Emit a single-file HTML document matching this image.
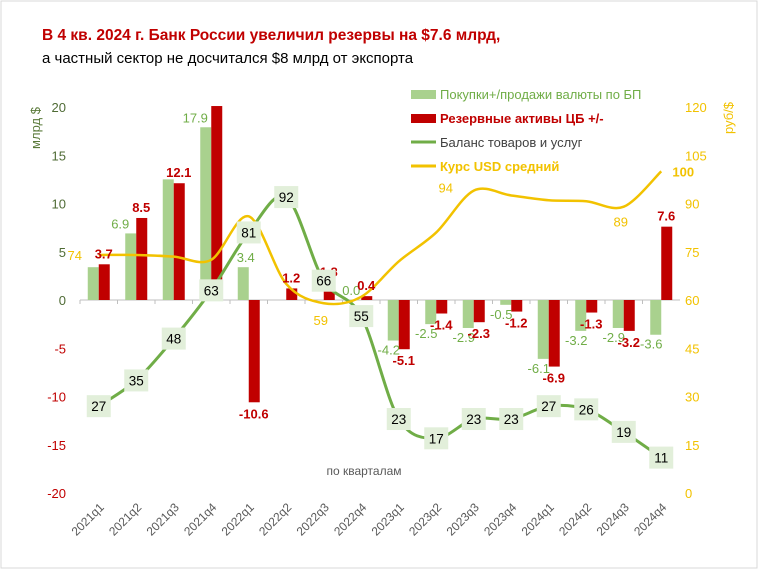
<!DOCTYPE html>
<html><head><meta charset="utf-8"><style>
body{margin:0;background:#fff;font-family:"Liberation Sans","DejaVu Sans",sans-serif}
#wrap{position:relative;width:758px;height:569px;overflow:hidden}
</style></head><body>
<div id="wrap">
<svg id="chart" width="758" height="569" xmlns="http://www.w3.org/2000/svg" font-family="Liberation Sans, DejaVu Sans, sans-serif">
<rect x="1" y="1" width="756" height="567" fill="#fff" stroke="#d9d9d9"/>
<text x="42" y="40" font-size="15.5" font-weight="bold" fill="#c00000">В 4 кв. 2024 г. Банк России увеличил резервы на $7.6 млрд,</text>
<text x="42" y="63" font-size="15" fill="#000">а частный сектор  не досчитался $8 млрд от экспорта</text>
<text transform="translate(40,128) rotate(-90)" font-size="13" fill="#5a7a3a" text-anchor="middle">млрд $</text>
<text transform="translate(733,118) rotate(-90)" font-size="13" fill="#f2c200" text-anchor="middle">руб/$</text>
<text x="364" y="475" font-size="12" fill="#595959" text-anchor="middle">по кварталам</text>
<g id="legend">
<rect x="411" y="90" width="25" height="9" fill="#a9d18e"/>
<text x="440" y="99" font-size="13" fill="#70ad47">Покупки+/продажи валюты по БП</text>
<rect x="411" y="114" width="25" height="9" fill="#c00000"/>
<text x="440" y="123" font-size="13" font-weight="bold" fill="#c00000">Резервные активы ЦБ +/-</text>
<line x1="411" y1="142" x2="436" y2="142" stroke="#70ad47" stroke-width="3"/>
<text x="440" y="147" font-size="13" fill="#404040">Баланс товаров и услуг</text>
<line x1="411" y1="166" x2="436" y2="166" stroke="#f2c200" stroke-width="3"/>
<text x="440" y="171" font-size="13" font-weight="bold" fill="#f2c200">Курс USD средний</text>
</g>
</svg>
</div>
<script>
const categories=["2021q1","2021q2","2021q3","2021q4","2022q1","2022q2","2022q3","2022q4","2023q1","2023q2","2023q3","2023q4","2024q1","2024q2","2024q3","2024q4"];
const fxPurchases=[3.4,6.9,12.5,17.9,3.4,0,0,0.0,-4.2,-2.5,-2.9,-0.5,-6.1,-3.2,-2.9,-3.6];
const fxLabels=["","6.9","","17.9","3.4","","","0.0","-4.2","-2.5","-2.9","-0.5","-6.1","-3.2","-2.9","-3.6"];
const reserves=[3.7,8.5,12.1,20.1,-10.6,1.2,1.8,0.4,-5.1,-1.4,-2.3,-1.2,-6.9,-1.3,-3.2,7.6];
const reserveLabels=["3.7","8.5","12.1","","-10.6","1.2","1.8","0.4","-5.1","-1.4","-2.3","-1.2","-6.9","-1.3","-3.2","7.6"];
const tradeBalance=[27,35,48,63,81,92,66,55,23,17,23,23,27,26,19,11];
const usdRate=[74,74,73.5,72.5,86,65,59,61,72,81,94,92.5,91,90.7,89,100];
const usdLabels=["74","","","","","","59","","","","94","","","","89","100"];
const leftTicks=[20,15,10,5,0,-5,-10,-15,-20];
const rightTicks=[120,105,90,75,60,45,30,15,0];

const svg=document.getElementById('chart');
const NS='http://www.w3.org/2000/svg';
const X0=80,X1=680,BW=11;
const yL=v=>300-v*(193/20);
const yR=v=>493-v*(386/120);
const xC=i=>X0+(X1-X0)/categories.length*(i+0.5);
function mk(tag,attrs,parent){const e=document.createElementNS(NS,tag);for(const k in attrs)e.setAttribute(k,attrs[k]);(parent||svg).appendChild(e);return e;}
function txt(x,y,s,size,fill,extra){const t=mk('text',Object.assign({x:x,y:y,'font-size':size,fill:fill,'text-anchor':'middle'},extra||{}));t.textContent=s;return t;}

leftTicks.forEach(v=>{
 const t=txt(66,yL(v)+5,String(v),13,v<0?'#c00000':'#4f6b35',{'text-anchor':'end'});
 
 
});
rightTicks.forEach(v=>{
 const t=txt(685,yR(v)+5,String(v),13,'#f2c200',{'text-anchor':'start'});
 
 
});
const ax=mk('line',{x1:X0,y1:yL(0),x2:X1,y2:yL(0),stroke:'#bfbfbf','stroke-width':1});


categories.forEach((c,i)=>{
 const tk=mk('line',{x1:X0+37.5*i,y1:yL(0),x2:X0+37.5*i,y2:yL(0)+4,stroke:'#bfbfbf'});
 
 
 const t=txt(0,0,c,12,'#595959',{'text-anchor':'end',transform:`translate(${xC(i)+6},${508}) rotate(-45)`});
 
 
});
fxPurchases.forEach((v,i)=>{
 const y=Math.min(yL(0),yL(v)),h=Math.abs(yL(v)-yL(0));
 const r=mk('rect',{x:xC(i)-BW,y:y,width:BW,height:Math.max(h,0),fill:'#a9d18e'});
 
 
});
reserves.forEach((v,i)=>{
 const y=Math.min(yL(0),yL(v)),h=Math.abs(yL(v)-yL(0));
 const r=mk('rect',{x:xC(i),y:y,width:BW,height:h,fill:'#c00000'});
 
 
});
function smooth(pts){let d=`M${pts[0][0]},${pts[0][1]}`;for(let i=0;i<pts.length-1;i++){const p0=pts[i-1]||pts[i],p1=pts[i],p2=pts[i+1],p3=pts[i+2]||p2;const t=0.16;d+=` C${p1[0]+(p2[0]-p0[0])*t},${p1[1]+(p2[1]-p0[1])*t} ${p2[0]-(p3[0]-p1[0])*t},${p2[1]-(p3[1]-p1[1])*t} ${p2[0]},${p2[1]}`;}return d;}
const gl=mk('path',{d:smooth(tradeBalance.map((v,i)=>[xC(i),yR(v)])),fill:'none',stroke:'#70ad47','stroke-width':3});


const yl=mk('path',{d:smooth(usdRate.map((v,i)=>[xC(i),yR(v)])),fill:'none',stroke:'#f2c200','stroke-width':2.5});


const fxDx=[0,-16,0,-16,-3,0,0,-10,-10,-10,-10,-10,-10,-10,-10,-10];
fxLabels.forEach((s,i)=>{if(!s)return;const v=fxPurchases[i];
 const t=txt(xC(i)+fxDx[i],v>=0?yL(v)-5:yL(v)+14,s,13,'#70ad47');
 
 
});
reserveLabels.forEach((s,i)=>{if(!s)return;const v=reserves[i];
 const t=txt(xC(i)+5,v>=0?yL(v)-6:yL(v)+16,s,13,'#c00000',{'font-weight':'bold'});
 
 
});
const usdDx=[-24,0,0,0,0,0,-3,0,0,0,-28,0,0,0,-3,22];
const usdDy=[5,0,0,0,0,0,22,0,0,0,2,0,0,0,20,5];
usdLabels.forEach((s,i)=>{if(!s)return;
 const t=txt(xC(i)+usdDx[i],yR(usdRate[i])+usdDy[i],s,13,'#f2c200',{'font-weight':i===15?'bold':'normal'});
 
 
});
tradeBalance.forEach((v,i)=>{
 const r=mk('rect',{x:xC(i)-12,y:yR(v)-11,width:24,height:22,fill:'#e2efda'});
 
 
 const t=txt(xC(i),yR(v)+5,String(v),13.5,'#000');
 
 
});
</script>
</body></html>
